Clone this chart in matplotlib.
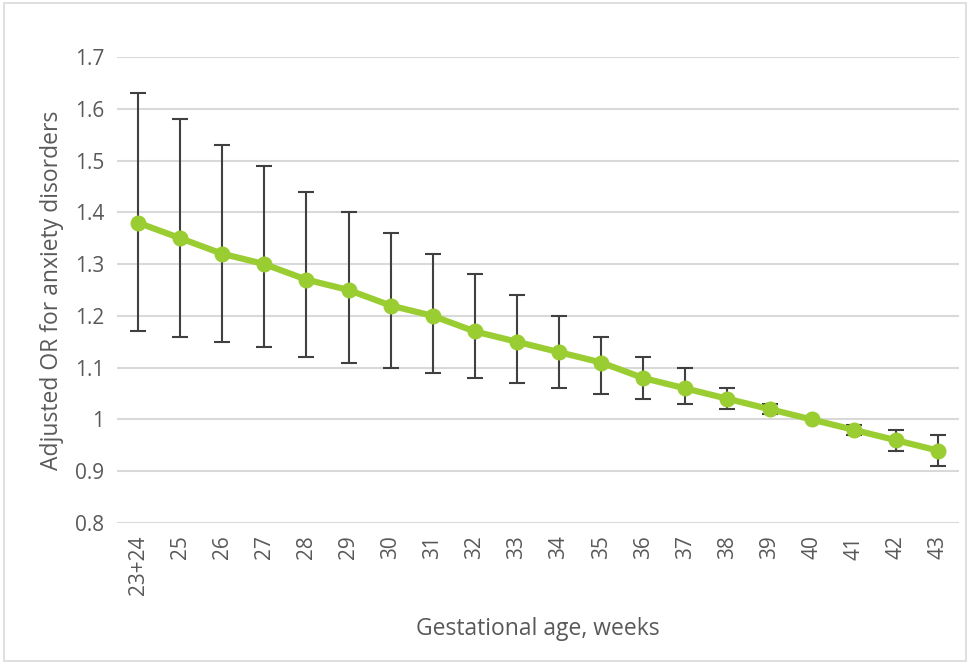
import matplotlib.pyplot as plt
from matplotlib.patches import Rectangle

weeks = ["23+24", "25", "26", "27", "28", "29", "30", "31", "32", "33",
         "34", "35", "36", "37", "38", "39", "40", "41", "42", "43"]
odds_ratio = [1.38, 1.35, 1.32, 1.30, 1.27, 1.25, 1.22, 1.20, 1.17, 1.15,
              1.13, 1.11, 1.08, 1.06, 1.04, 1.02, 1.00, 0.98, 0.96, 0.94]
ci_low = [1.17, 1.16, 1.15, 1.14, 1.12, 1.11, 1.10, 1.09, 1.08, 1.07,
          1.06, 1.05, 1.04, 1.03, 1.02, 1.01, 1.00, 0.97, 0.94, 0.91]
ci_high = [1.63, 1.58, 1.53, 1.49, 1.44, 1.40, 1.36, 1.32, 1.28, 1.24,
           1.20, 1.16, 1.12, 1.10, 1.06, 1.03, 1.00, 0.99, 0.98, 0.97]
y_ticks = [0.8, 0.9, 1.0, 1.1, 1.2, 1.3, 1.4, 1.5, 1.6, 1.7]
y_labels = ["0.8", "0.9", "1", "1.1", "1.2", "1.3", "1.4", "1.5", "1.6", "1.7"]

plt.rcParams['font.family'] = ['Open Sans', 'DejaVu Sans']
grey = '#595959'

fig = plt.figure(figsize=(9.7, 6.64), dpi=100)
fig.patches.append(Rectangle((0.004, 0.005), 0.992, 0.99, transform=fig.transFigure,
                             fill=False, edgecolor='#d9d9d9', linewidth=1.2))
ax = fig.add_axes([0.1206, 0.2123, 0.868, 0.7019])

x = list(range(len(weeks)))
lower = [m - l for m, l in zip(odds_ratio, ci_low)]
upper = [h - m for m, h in zip(odds_ratio, ci_high)]
ax.errorbar(x, odds_ratio, yerr=[lower, upper], fmt='none', ecolor='#404040',
            elinewidth=1.5, capsize=5.5, capthick=1.5, zorder=2)
ax.plot(x, odds_ratio, color='#9acd32', linewidth=4.5, marker='o',
        markersize=10.5, zorder=3)  # main OR line

ax.set_xlim(-0.5, len(weeks) - 0.5)
ax.set_ylim(0.8, 1.7)
ax.set_yticks(y_ticks)
ax.set_yticklabels(y_labels)
ax.set_xticks(x)
ax.set_xticklabels(weeks, rotation=90)
ax.tick_params(axis='both', length=0, labelsize=15, labelcolor=grey, pad=9)
ax.grid(axis='y', color='#d9d9d9', linewidth=1.5)
ax.set_axisbelow(True)
for s in ax.spines.values():
    s.set_visible(False)

ax.set_ylabel("Adjusted OR for anxiety disorders", fontsize=16.5, color=grey, labelpad=8)
ax.set_xlabel("Gestational age, weeks", fontsize=16.5, color=grey, labelpad=16)

fig.savefig("out.png", dpi=100)
